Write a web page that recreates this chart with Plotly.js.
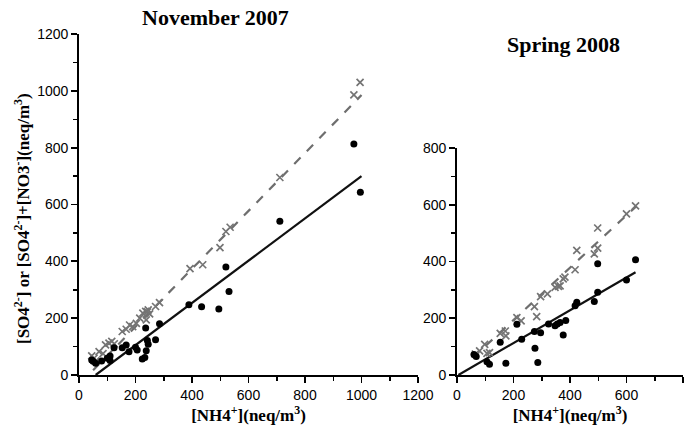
<!DOCTYPE html>
<html>
<head>
<meta charset="utf-8">
<script src="https://cdn.plot.ly/plotly-3.0.1.min.js"></script>
<style>html,body{margin:0;padding:0;background:#fff}#chart{width:694px;height:430px}</style>
</head>
<body>
<div id="chart"></div>
<script>
// November 2007: [NH4+] vs [SO4 2-] (dots) and vs [SO4 2-]+[NO3-] (crosses)
var novDotX = [45,50,59,80,100,110,110,124,153,167,177,200,206,236,224,233,238,242,245,271,285,389,434,495,520,531,711,973,996];
var novDotY = [53,48,41,49,59,67,51,96,96,106,82,98,88,165,56,62,85,121,108,124,180,247,240,232,380,294,541,813,643];
var novCrossX = [45,53,60,71,85,94,106,116,125,153,167,179,190,203,215,226,236,245,238,250,242,271,285,393,438,499,520,535,711,973,995];
var novCrossY = [67,59,50,82,75,106,112,118,110,153,161,176,170,182,200,218,224,229,194,215,222,241,255,374,388,448,505,520,695,986,1030];
var novFitX = [59,1000], novFitY = [0,700];
var novSumFitX = [50,1000], novSumFitY = [17,985];

// Spring 2008
var sprDotX = [60,68,106,115,153,173,212,229,274,276,286,296,324,347,355,365,376,385,418,424,486,498,498,600,632];
var sprDotY = [72,65,47,38,115,41,179,126,153,94,44,149,180,174,180,185,141,192,244,256,259,292,392,335,406];
var sprCrossX = [65,80,98,106,115,153,171,173,212,227,274,282,296,320,347,359,365,376,382,418,424,486,498,498,600,632];
var sprCrossY = [74,85,108,76,79,147,155,138,202,191,241,206,276,286,309,312,314,339,345,371,439,427,447,518,568,596];
var sprFitX = [5,632], sprFitY = [0,362];
var sprSumFitX = [55,635], sprSumFitY = [60,595];

var xTickVals1 = [0,200,400,600,800,1000,1200];
var yTickVals1 = [0,200,400,600,800,1000,1200];
var xTickVals2 = [0,200,400,600,800];
var yTickVals2 = [0,200,400,600,800];

var titles = ['November 2007', 'Spring 2008'];
var xTitle = '[NH4<sup>+</sup>](neq/m<sup>3</sup>)';
var yTitle = '[SO4<sup>2-</sup>] or [SO4<sup>2-</sup>]+[NO3<sup>-</sup>](neq/m<sup>3</sup>)';

var dotMarker = {color:'#000', size:7, symbol:'circle'};
var crossMarker = {color:'#747474', size:7, symbol:'x-thin-open', line:{color:'#747474', width:1.7}};

var traces = [
  {x:novSumFitX, y:novSumFitY, mode:'lines', line:{color:'#6e6e6e', width:2.2, dash:'dash'}, xaxis:'x', yaxis:'y', hoverinfo:'skip'},
  {x:novFitX, y:novFitY, mode:'lines', line:{color:'#111', width:2.2}, xaxis:'x', yaxis:'y', hoverinfo:'skip'},
  {x:novCrossX, y:novCrossY, mode:'markers', marker:crossMarker, xaxis:'x', yaxis:'y'},
  {x:novDotX, y:novDotY, mode:'markers', marker:dotMarker, xaxis:'x', yaxis:'y'},
  {x:sprSumFitX, y:sprSumFitY, mode:'lines', line:{color:'#6e6e6e', width:2.2, dash:'dash'}, xaxis:'x2', yaxis:'y2', hoverinfo:'skip'},
  {x:sprFitX, y:sprFitY, mode:'lines', line:{color:'#111', width:2.2}, xaxis:'x2', yaxis:'y2', hoverinfo:'skip'},
  {x:sprCrossX, y:sprCrossY, mode:'markers', marker:crossMarker, xaxis:'x2', yaxis:'y2'},
  {x:sprDotX, y:sprDotY, mode:'markers', marker:dotMarker, xaxis:'x2', yaxis:'y2'}
];

var tickFont = {family:'"Liberation Sans", Arial, sans-serif', size:14, color:'#000'};
var serif = '"Liberation Serif", "Times New Roman", serif';
var labFont = {family:serif, size:17, color:'#000', weight:'bold'};

function axis(dom, rng, vals, anchor) {
  return {
    domain: dom, range: rng, anchor: anchor, tickvals: vals, ticktext: vals.map(String),
    showgrid:false, zeroline:false, showline:true, linecolor:'#000', linewidth:1.8,
    ticks:'outside', ticklen:6, tickwidth:1.8, tickcolor:'#000', tickfont:tickFont,
    minor:{ticks:'outside', dtick:100, ticklen:4, tickwidth:1.5, tickcolor:'#000', showgrid:false},
    fixedrange:true
  };
}

var xa1 = axis([79/694, 418/694], [0,1200], xTickVals1, 'y');
xa1.title = {text:xTitle, font:labFont, standoff:3};
var ya1 = axis([55/430, 396/430], [0,1200], yTickVals1, 'x');
var xa2 = axis([457/694, 683/694], [0,800], xTickVals2, 'y2');
xa2.title = {text:xTitle, font:labFont, standoff:3};
var ya2 = axis([55/430, 282/430], [0,800], yTickVals2, 'x2');

var layout = {
  width:694, height:430, margin:{l:0, r:0, t:0, b:0},
  paper_bgcolor:'#fff', plot_bgcolor:'#fff', showlegend:false,
  xaxis:xa1, yaxis:ya1, xaxis2:xa2, yaxis2:ya2,
  annotations:[
    {text:titles[0], x:215/694, y:(430-17)/430, xref:'paper', yref:'paper', showarrow:false, xanchor:'center', yanchor:'middle',
     font:{family:serif, size:22, color:'#000', weight:'bold'}},
    {text:titles[1], x:563/694, y:(430-45)/430, xref:'paper', yref:'paper', showarrow:false, xanchor:'center', yanchor:'middle',
     font:{family:serif, size:22, color:'#000', weight:'bold'}},
    {text:yTitle, x:22/694, y:(430-219)/430, xref:'paper', yref:'paper', showarrow:false, xanchor:'center', yanchor:'middle',
     textangle:-90, font:labFont}
  ]
};

Plotly.newPlot('chart', traces, layout, {staticPlot:true, displayModeBar:false});
</script>
</body>
</html>
